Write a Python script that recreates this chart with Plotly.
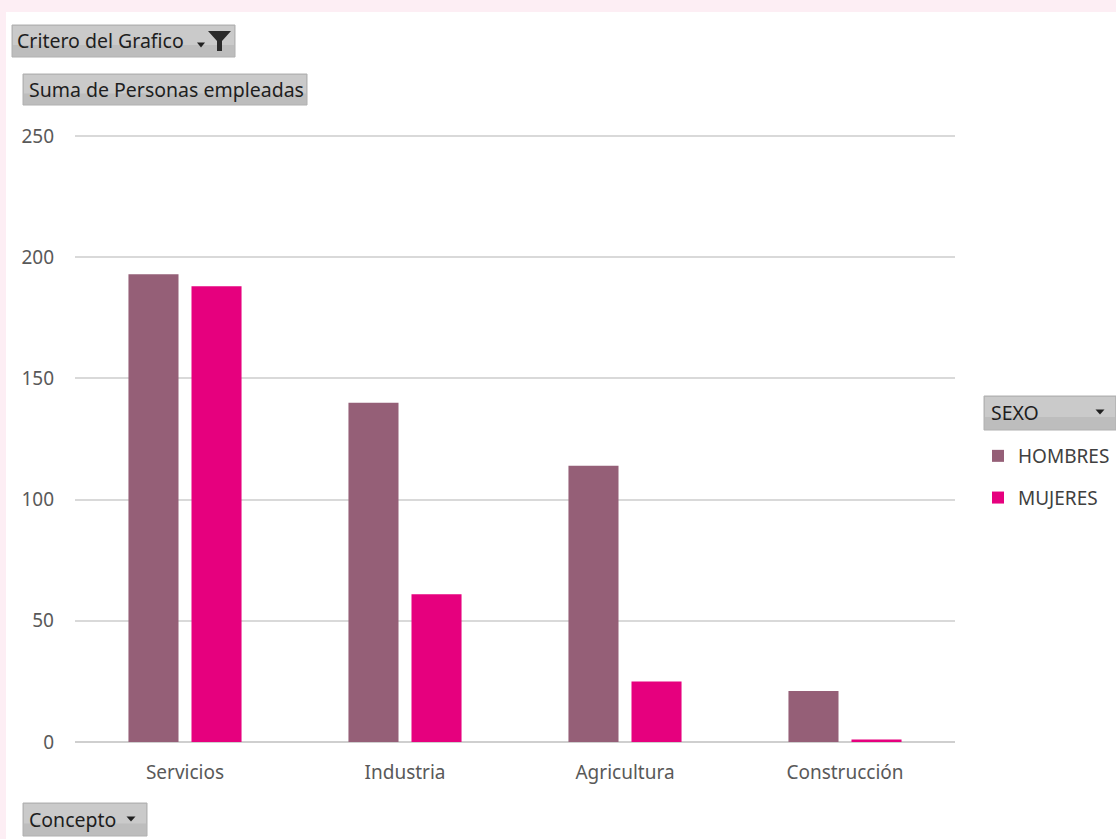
import plotly.graph_objects as go

W, H = 1116, 839

categories = ["Servicios", "Industria", "Agricultura", "Construcción"]
hombres = [193, 140, 114, 21]
mujeres = [188, 61, 25, 1]
series_names = ["HOMBRES", "MUJERES"]
colors = ["#955f77", "#e6007e"]
y_ticks = [0, 50, 100, 150, 200, 250]

FONT = "Noto Sans, Open Sans, sans-serif"


def px(x):
    return x / W


def py(y):
    return 1 - y / H


fig = go.Figure()
for name, vals, col in zip(series_names, [hombres, mujeres], colors):
    fig.add_trace(go.Bar(
        x=categories, y=vals, name=name, marker=dict(color=col, line=dict(width=0)),
        legendgroup=name,
    ))

shapes = []
annotations = []

# white panel
shapes.append(dict(type="rect", xref="paper", yref="paper", x0=px(6), x1=1, y0=0, y1=py(12),
                   fillcolor="white", line=dict(width=0), layer="below"))


def button(x0, y0, x1, y1, text, tx, size=19.5):
    shapes.append(dict(type="rect", xref="paper", yref="paper", x0=px(x0), x1=px(x1),
                       y0=py(y1), y1=py(y0), fillcolor="#bdbdbd",
                       line=dict(color="#b0b0b0", width=1), layer="above"))
    shapes.append(dict(type="rect", xref="paper", yref="paper", x0=px(x0 + 1), x1=px(x1 - 1),
                       y0=py((y0 + y1) / 2 + 4), y1=py(y0 + 1), fillcolor="#cacaca",
                       line=dict(width=0), layer="above"))
    annotations.append(dict(xref="paper", yref="paper", x=px(tx), y=py((y0 + y1) / 2),
                            text=text, showarrow=False, xanchor="left", yanchor="middle",
                            font=dict(family=FONT, size=size, color="#1e1e1e")))


def arrow(cx, cy, w=9, h=5):
    shapes.append(dict(type="path", xref="paper", yref="paper",
                       path=f"M {px(cx - w/2)},{py(cy - h/2)} L {px(cx + w/2)},{py(cy - h/2)} L {px(cx)},{py(cy + h/2)} Z",
                       fillcolor="#202020", line=dict(width=0), layer="above"))


button(12, 25, 235, 57, "Critero del Grafico", 15)
arrow(201, 45, 8, 5)
# funnel icon
shapes.append(dict(type="path", xref="paper", yref="paper",
                   path=(f"M {px(208)},{py(31)} L {px(231)},{py(31)} L {px(222)},{py(41)} "
                         f"L {px(222)},{py(51)} L {px(217)},{py(51)} L {px(217)},{py(41)} Z"),
                   fillcolor="#2a2a2a", line=dict(width=0), layer="above"))

button(23, 74, 307, 105, "Suma de Personas empleadas", 27)
button(984, 396, 1116, 430, "SEXO", 989)
arrow(1100, 412, 9, 5)
button(23, 803, 147, 836, "Concepto", 27)
arrow(131, 819, 9, 5)

fig.update_layout(
    width=W, height=H,
    margin=dict(l=0, r=0, t=0, b=0),
    paper_bgcolor="#fdeef4",
    plot_bgcolor="rgba(0,0,0,0)",
    font=dict(family=FONT, color="#595959", size=19),
    bargap=0.427,
    bargroupgap=0.206,
    barmode="group",
    shapes=shapes,
    annotations=annotations,
    showlegend=True,
    legend=dict(
        x=px(978), y=py(437), xanchor="left", yanchor="top",
        bgcolor="rgba(0,0,0,0)", font=dict(family=FONT, size=19, color="#404040"),
        traceorder="grouped", tracegroupgap=14, itemwidth=30,
    ),
    xaxis=dict(
        domain=[px(75), px(955)], showgrid=False, showline=False, zeroline=False,
        ticks="", tickfont=dict(size=19, color="#595959"), ticklabelstandoff=17,
        automargin=False, fixedrange=True,
    ),
    yaxis=dict(
        domain=[py(742), py(133.6)], range=[0, 251], tickvals=y_ticks,
        showgrid=True, gridcolor="#d9d9d9", gridwidth=1.5,
        zeroline=True, zerolinecolor="#cfcfcf", zerolinewidth=2,
        showline=False, ticks="", tickfont=dict(size=19, color="#595959"),
        ticklabelstandoff=20, automargin=False, fixedrange=True,
    ),
)

fig.write_html("out.html", config=dict(displayModeBar=False))
